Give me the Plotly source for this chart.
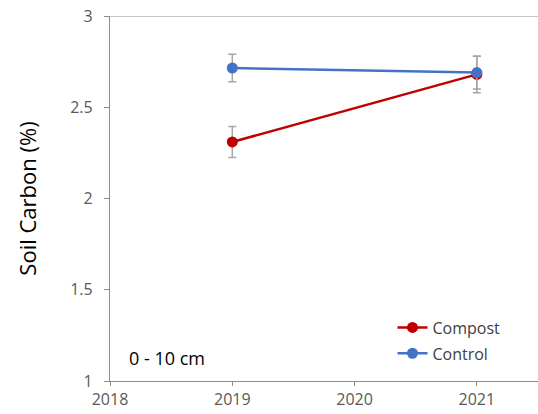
import plotly.graph_objects as go

years = [2019, 2021]
compost = [2.31, 2.68]
compost_err = [0.085, 0.10]
control = [2.715, 2.69]
control_err = [0.075, 0.09]
series_names = ["Compost", "Control"]
x_ticks = [2018, 2019, 2020, 2021]
y_ticks = [1, 1.5, 2, 2.5, 3]

fig = go.Figure()
fig.add_trace(go.Scatter(
    x=years, y=compost, name=series_names[0], mode="lines+markers",
    line=dict(color="#C00000", width=2.5),
    marker=dict(color="#C00000", size=11),
    error_y=dict(type="data", array=compost_err, color="#A6A6A6", thickness=1.5, width=4),
    legendgroup="a",
))
fig.add_trace(go.Scatter(
    x=years, y=control, name=series_names[1], mode="lines+markers",
    line=dict(color="#4472C4", width=2.5),
    marker=dict(color="#4472C4", size=11),
    error_y=dict(type="data", array=control_err, color="#A6A6A6", thickness=1.5, width=4),
    legendgroup="b",
))

fig.add_shape(type="line", xref="paper", yref="y", x0=-0.012, x1=1, y0=3, y1=3,
              line=dict(color="#8C8C8C", width=1.2))

fig.add_annotation(text="0 - 10 cm", xref="paper", yref="paper", x=0.04, y=0.063,
                   xanchor="left", yanchor="middle", showarrow=False,
                   font=dict(size=18, color="#000000"))

fig.update_layout(
    width=538, height=414,
    margin=dict(l=110, r=0, t=16, b=33),
    paper_bgcolor="white", plot_bgcolor="white",
    font=dict(family="Open Sans, Liberation Sans, sans-serif", color="#595959"),
    showlegend=True,
    legend=dict(x=0.66, y=0.193, xanchor="left", yanchor="top",
                font=dict(size=16, color="#404040"),
                bgcolor="rgba(0,0,0,0)", traceorder="grouped", tracegroupgap=2,
                itemwidth=30),
    xaxis=dict(range=[2018, 2021.5], tickvals=x_ticks, ticktext=[str(v) for v in x_ticks],
               showgrid=False, zeroline=False, showline=True, linecolor="#8C8C8C", linewidth=1.2,
               ticks="outside", ticklen=4, tickcolor="#8C8C8C", automargin=False,
               tickfont=dict(size=16, color="#595959")),
    yaxis=dict(range=[1, 3], tickvals=y_ticks, ticktext=["1", "1.5", "2", "2.5", "3"],
               showgrid=False, zeroline=False, showline=True, linecolor="#8C8C8C", linewidth=1.2,
               ticks="outside", ticklen=5, tickcolor="#8C8C8C", automargin=False,
               ticklabelstandoff=8,
               tickfont=dict(size=16, color="#595959"),
               title=dict(text="Soil Carbon (%)", font=dict(size=22, color="#000000"), standoff=27)),
)

fig.write_html("out.html", config={"displayModeBar": False},
               post_script="document.body.style.margin='0';")
